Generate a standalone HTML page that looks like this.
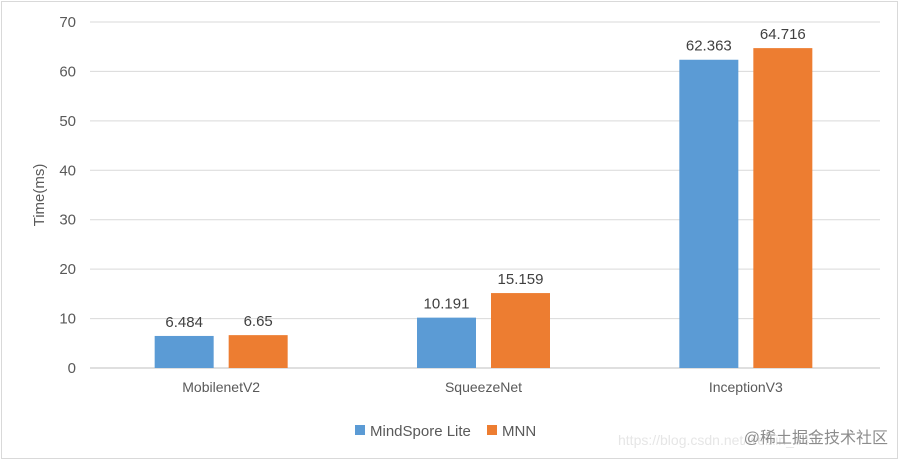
<!DOCTYPE html>
<html><head><meta charset="utf-8"><style>
body{margin:0;background:#fff;}
svg{display:block;font-family:"Liberation Sans","Noto Sans CJK SC",sans-serif;}
</style></head><body>
<svg id="c" width="900" height="461">
<rect x="1.5" y="1.5" width="896" height="457" fill="#fff" stroke="#d9d9d9"/>
<g id="grid"></g><g id="bars"></g>
<text x="44" y="195" transform="rotate(-90 44 195)" text-anchor="middle" font-size="15" fill="#595959">Time(ms)</text>
<g>
<rect x="355" y="425" width="10" height="10" fill="#5b9bd5"/>
<text x="370" y="436" font-size="15" fill="#595959">MindSpore Lite</text>
<rect x="487" y="425" width="10" height="10" fill="#ed7d31"/>
<text x="502" y="436" font-size="15" fill="#595959">MNN</text>
</g>
<text x="618" y="445" font-size="14" fill="#e6e6e6">https://blog.csdn.net/weixin_44</text>
<text x="888" y="443" text-anchor="end" font-size="16" fill="#8c8c8c">@稀土掘金技术社区</text>
</svg>
<script>
const categories=["MobilenetV2","SqueezeNet","InceptionV3"];
const mindspore=[6.484,10.191,62.363];
const mnn=[6.65,15.159,64.716];
const ticks=[0,10,20,30,40,50,60,70];
const NS="http://www.w3.org/2000/svg";
const y0=368,yTop=22,x0=90,x1=877;
function y(v){return y0-(v/70)*(y0-yTop);}
const cw=(x1-x0)/categories.length;
function cx(i){return x0+cw*(i+0.5);}
function mk(t,a,p){const e=document.createElementNS(NS,t);for(const k in a)e.setAttribute(k,a[k]);p.appendChild(e);return e;}
const g=document.getElementById('grid'),b=document.getElementById('bars');
ticks.forEach(t=>{
 const l=mk('line',{x1:x0,x2:880,y1:y(t),y2:y(t),stroke:t===0?'#bfbfbf':'#d9d9d9'},g);
 
 
 const tx=mk('text',{x:76,y:y(t)+5,'text-anchor':'end','font-size':15,fill:'#595959'},g);
 tx.textContent=t;
 
 
});
const bw=59,gap=15;
categories.forEach((c,i)=>{
 const lab=mk('text',{x:cx(i),y:392,'text-anchor':'middle','font-size':14,fill:'#595959'},g);
 lab.textContent=c;
 
 
 [[mindspore,'#5b9bd5','mindspore',-1],[mnn,'#ed7d31','mnn',1]].forEach(([arr,col,nm,s])=>{
  const x=s<0?cx(i)-gap/2-bw:cx(i)+gap/2;
  const r=mk('rect',{x:x,y:y(arr[i]),width:bw,height:y0-y(arr[i]),fill:col},b);
  
  
  const v=mk('text',{x:x+bw/2,y:y(arr[i])-9,'text-anchor':'middle','font-size':15,fill:'#404040'},b);
  v.textContent=arr[i];
  
  
 });
});
</script>
</body></html>
